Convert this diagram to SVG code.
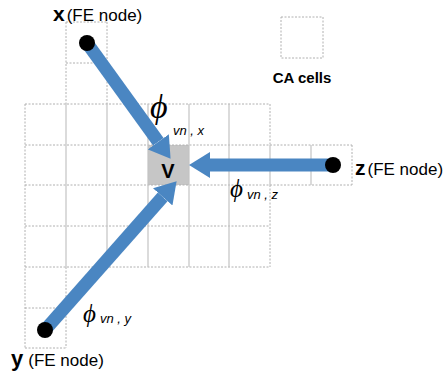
<svg xmlns="http://www.w3.org/2000/svg" width="444" height="377" viewBox="0 0 444 377">
<style>
.dot{stroke:#b0b0b0;stroke-width:1;stroke-dasharray:2,1.5;fill:none}
.sol{stroke:#c4c4c4;stroke-width:1.2;fill:none}
.arr{stroke:#4A86C2;stroke-width:13;fill:none}
.lbl{font-family:"Liberation Sans",Arial,sans-serif;font-size:17px;fill:#000}
.b{font-weight:bold}
.phi{font-family:"Liberation Serif","Times New Roman",serif;font-style:italic;fill:#000}
.sub{font-family:"Liberation Sans",Arial,sans-serif;font-style:italic;font-size:13px;fill:#000}
.nd{fill:#000}
</style>
<defs>
<marker id="head" markerUnits="userSpaceOnUse" markerWidth="22" markerHeight="26" refX="0" refY="13" orient="auto">
<path d="M0,0 L21,13 L0,26 Z" fill="#4A86C2"/>
</marker>
</defs>
<g id="grid">
<rect x="148" y="145" width="41" height="40" fill="#c6c6c6"/>
<path class="dot" d="M25,104H270M25,145H352M25,185H352M25,226H270M25,267H270M66,22H107M66,63H107M25,308H66M25,348H66"/>
<path class="dot" d="M25,104V348M66,22V104M107,22V104M66,267V348M270,104V145M270,185V267M352,145V185"/>
<path class="sol" d="M66,104V267M107,104V267M148,104V267M189,104V267M229,104V267M270,145V185M311,145V185"/>
</g>
<g id="legend">
<rect class="dot" x="281" y="17" width="42" height="41"/>
<text class="lbl b" x="302" y="83" text-anchor="middle" style="font-size:15px">CA cells</text>
</g>
<g id="connectors">
<line class="arr" x1="87" y1="43" x2="158.3" y2="141.8" marker-end="url(#head)"/>
<line class="arr" x1="333" y1="165" x2="210" y2="165" marker-end="url(#head)"/>
<line class="arr" x1="45" y1="330" x2="162.7" y2="196.9" marker-end="url(#head)"/>
</g>
<g id="node-v">
<text class="lbl b" x="168" y="178" text-anchor="middle" style="font-size:20px">V</text>
</g>
<g id="node-x">
<circle class="nd" cx="87" cy="43" r="8"/>
<text class="lbl" x="53" y="21"><tspan class="b" style="font-size:21px">x</tspan><tspan dx="2">(FE node)</tspan></text>
</g>
<g id="node-z">
<circle class="nd" cx="333" cy="165" r="8"/>
<text class="lbl" x="355" y="175"><tspan class="b" style="font-size:21px">z</tspan><tspan dx="2">(FE node)</tspan></text>
</g>
<g id="node-y">
<circle class="nd" cx="45" cy="330" r="8"/>
<text class="lbl" x="11" y="366"><tspan class="b" style="font-size:22px">y</tspan><tspan dx="5">(FE node)</tspan></text>
</g>
<g id="labels">
<text class="phi" x="150" y="118" style="font-size:34px">ϕ</text>
<text class="sub" x="173" y="135">vn , x</text>
<text class="phi" x="230" y="197" style="font-size:25px">ϕ</text>
<text class="sub" x="247" y="199">vn , z</text>
<text class="phi" x="83" y="322" style="font-size:25px">ϕ</text>
<text class="sub" x="100" y="323">vn , y</text>
</g>
</svg>
